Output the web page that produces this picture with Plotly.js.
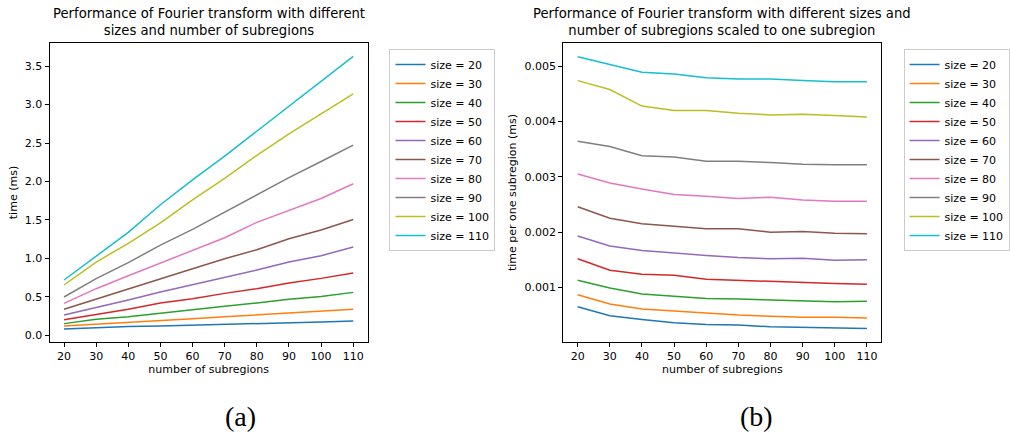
<!DOCTYPE html>
<html>
<head>
<meta charset="utf-8">
<script src="https://cdn.plot.ly/plotly-3.0.1.min.js"></script>
<style>html,body{margin:0;padding:0;background:#fff;}#chart{width:1010px;height:433px;}</style>
</head>
<body>
<div id="chart"></div>
<script>
// Shared x categories: number of subregions
const subregions = [20, 30, 40, 50, 60, 70, 80, 90, 100, 110];
const sizeLabels = ["size = 20","size = 30","size = 40","size = 50","size = 60","size = 70","size = 80","size = 90","size = 100","size = 110"];

// (a) total time (ms)
const time_s20  = [0.082, 0.100, 0.113, 0.121, 0.130, 0.147, 0.152, 0.164, 0.173, 0.186];
const time_s30  = [0.121, 0.143, 0.165, 0.190, 0.216, 0.242, 0.264, 0.290, 0.316, 0.338];
const time_s40  = [0.152, 0.208, 0.242, 0.290, 0.329, 0.377, 0.420, 0.468, 0.506, 0.558];
const time_s50  = [0.203, 0.268, 0.338, 0.420, 0.476, 0.545, 0.606, 0.680, 0.740, 0.810];
const time_s60  = [0.264, 0.360, 0.459, 0.563, 0.658, 0.749, 0.848, 0.952, 1.035, 1.147];
const time_s70  = [0.338, 0.472, 0.602, 0.736, 0.866, 0.996, 1.113, 1.255, 1.368, 1.506];
const time_s80  = [0.416, 0.606, 0.775, 0.939, 1.108, 1.268, 1.468, 1.623, 1.779, 1.970];
const time_s90  = [0.498, 0.736, 0.944, 1.173, 1.377, 1.602, 1.830, 2.050, 2.260, 2.472];
const time_s100 = [0.654, 0.952, 1.195, 1.463, 1.762, 2.040, 2.340, 2.620, 2.880, 3.140];
const time_s110 = [0.719, 1.030, 1.338, 1.697, 2.020, 2.330, 2.657, 2.980, 3.310, 3.627];

// (b) time per one subregion (ms)
const per_s20  = [0.00065, 0.00049, 0.00042, 0.00036, 0.00033, 0.00032, 0.00029, 0.00028, 0.00026, 0.00026];
const per_s30  = [0.00087, 0.00070, 0.00061, 0.00057, 0.00053, 0.00050, 0.00048, 0.00046, 0.00046, 0.00045];
const per_s40  = [0.00113, 0.00099, 0.00088, 0.00084, 0.00080, 0.00079, 0.00077, 0.00076, 0.00074, 0.00075];
const per_s50  = [0.00152, 0.00131, 0.00124, 0.00122, 0.00115, 0.00113, 0.00110, 0.00109, 0.00107, 0.00106];
const per_s60  = [0.00193, 0.00175, 0.00167, 0.00162, 0.00158, 0.00154, 0.00152, 0.00153, 0.00149, 0.00150];
const per_s70  = [0.00246, 0.00225, 0.00215, 0.00210, 0.00206, 0.00206, 0.00200, 0.00201, 0.00198, 0.00197];
const per_s80  = [0.00305, 0.00289, 0.00278, 0.00268, 0.00265, 0.00261, 0.00263, 0.00258, 0.00256, 0.00256];
const per_s90  = [0.003645, 0.00355, 0.00338, 0.00336, 0.00328, 0.00328, 0.00326, 0.00323, 0.00322, 0.00322];
const per_s100 = [0.00474, 0.00458, 0.00428, 0.00420, 0.00420, 0.00415, 0.00412, 0.00413, 0.00411, 0.00408];
const per_s110 = [0.00517, 0.00503, 0.00489, 0.00486, 0.00479, 0.00477, 0.00477, 0.00474, 0.00472, 0.00472];

const yTicksA = [0.0, 0.5, 1.0, 1.5, 2.0, 2.5, 3.0, 3.5];
const yTicksB = [0.001, 0.002, 0.003, 0.004, 0.005];

const colors = ["#1f77b4","#ff7f0e","#2ca02c","#d62728","#9467bd","#8c564b","#e377c2","#7f7f7f","#bcbd22","#17becf"];
const seriesA = [time_s20,time_s30,time_s40,time_s50,time_s60,time_s70,time_s80,time_s90,time_s100,time_s110];
const seriesB = [per_s20,per_s30,per_s40,per_s50,per_s60,per_s70,per_s80,per_s90,per_s100,per_s110];

const traces = [];
seriesA.forEach((ys, i) => traces.push({
  x: subregions, y: ys, type: "scatter", mode: "lines", name: sizeLabels[i],
  line: {color: colors[i], width: 1.5}, xaxis: "x", yaxis: "y", legend: "legend"
}));
seriesB.forEach((ys, i) => traces.push({
  x: subregions, y: ys, type: "scatter", mode: "lines", name: sizeLabels[i],
  line: {color: colors[i], width: 1.5}, xaxis: "x2", yaxis: "y2", legend: "legend2"
}));

const W = 1010, H = 433;
const FAM = "DejaVu Sans, sans-serif";
const font = {family: FAM, size: 11, color: "#000"};
const axisCommon = {
  showgrid: false, zeroline: false, showline: true, linecolor: "#000", linewidth: 1,
  mirror: true, ticks: "outside", ticklen: 4, tickwidth: 1, tickcolor: "#000",
  tickfont: {family: FAM, size: 11, color: "#000"}
};
const legendCommon = {
  font: {family: FAM, size: 11, color: "#000"},
  bordercolor: "#cccccc", borderwidth: 1, bgcolor: "#fff",
  xanchor: "left", yanchor: "top", tracegroupgap: 0
};

const layout = {
  width: W, height: H,
  margin: {l: 0, r: 0, t: 0, b: 0},
  paper_bgcolor: "#fff", plot_bgcolor: "#fff",
  font: font,
  showlegend: true,
  xaxis: Object.assign({}, axisCommon, {
    domain: [50/W, 371/W], anchor: "y", range: [15.5, 114.5],
    tickvals: subregions, ticktext: subregions.map(String),
    title: {text: "number of subregions", font: {size: 11, family: FAM}, standoff: 3}
  }),
  yaxis: Object.assign({}, axisCommon, {
    domain: [1 - 342/H, 1 - 43/H], anchor: "x", range: [-0.087, 3.80],
    tickvals: yTicksA, ticktext: yTicksA.map(v => v.toFixed(1)),
    title: {text: "time (ms)", font: {size: 11, family: FAM}, standoff: 5}
  }),
  xaxis2: Object.assign({}, axisCommon, {
    domain: [568.3/W, 889.3/W], anchor: "y2", range: [15.5, 114.5],
    tickvals: subregions, ticktext: subregions.map(String),
    title: {text: "number of subregions", font: {size: 11, family: FAM}, standoff: 3}
  }),
  yaxis2: Object.assign({}, axisCommon, {
    domain: [1 - 342/H, 1 - 43/H], anchor: "x2", range: [0.000014, 0.00542],
    tickvals: yTicksB, ticktext: yTicksB.map(v => v.toFixed(3)),
    title: {text: "time per one subregion (ms)", font: {size: 11, family: FAM}, standoff: 5}
  }),
  legend: Object.assign({}, legendCommon, {x: 393/W, y: 1 - 49/H}),
  legend2: Object.assign({}, legendCommon, {x: 911.7/W, y: 1 - 49/H}),
  annotations: [
    {text: "Performance of Fourier transform with different<br>sizes and number of subregions",
     xref: "paper", yref: "paper", x: 210.5/W, y: 1 - 40/H, xanchor: "center", yanchor: "bottom",
     showarrow: false, font: {family: FAM, size: 13.2, color: "#000"}},
    {text: "Performance of Fourier transform with different sizes and<br>number of subregions scaled to one subregion",
     xref: "paper", yref: "paper", x: 728.8/W, y: 1 - 40/H, xanchor: "center", yanchor: "bottom",
     showarrow: false, font: {family: FAM, size: 13.2, color: "#000"}},
    {text: "(a)", xref: "paper", yref: "paper", x: 243/W, y: 1 - 416/H, xanchor: "center", yanchor: "middle",
     showarrow: false, font: {family: "Liberation Serif, DejaVu Serif, serif", size: 28, color: "#000"}},
    {text: "(b)", xref: "paper", yref: "paper", x: 763/W, y: 1 - 416/H, xanchor: "center", yanchor: "middle",
     showarrow: false, font: {family: "Liberation Serif, DejaVu Serif, serif", size: 28, color: "#000"}}
  ]
};

Plotly.newPlot("chart", traces, layout, {displayModeBar: false, staticPlot: true});
</script>
</body>
</html>
